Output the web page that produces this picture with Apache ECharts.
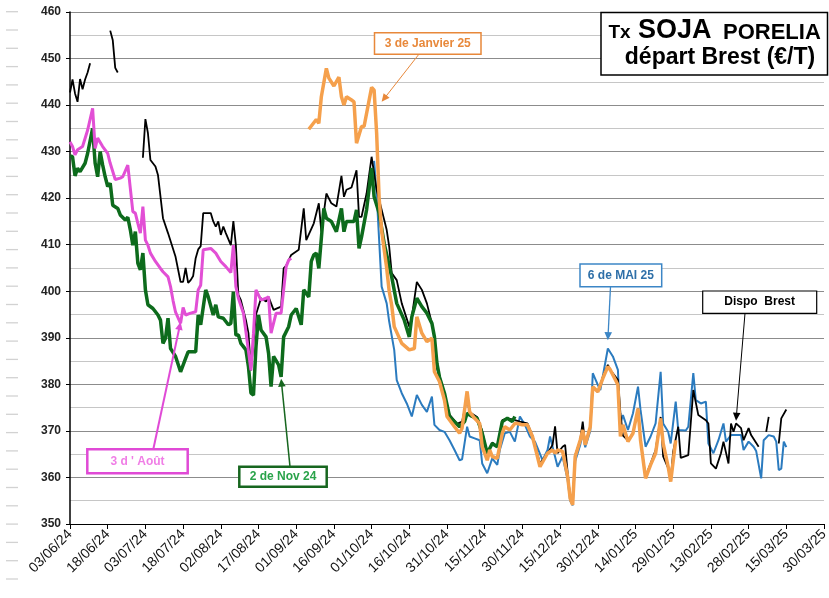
<!DOCTYPE html>
<html><head><meta charset="utf-8">
<script src="https://cdn.jsdelivr.net/npm/echarts/dist/echarts.min.js"></script>
<style>html,body{margin:0;padding:0;background:#fff}#c{width:829px;height:598px}</style>
</head><body><div id="c"></div>
<script>
// ---------- axis definition ----------
const startDate = '2024-06-03';
const endDate = '2025-03-30';
const tickStepDays = 15;
const yMin = 350, yMax = 460, yStep = 10;

// ---------- series (date, €/T) ; null = gap ----------
const dispoBrest = [
['2024-06-03',442.7],['2024-06-04',445.5],['2024-06-05',442.5],['2024-06-06',440.7],['2024-06-07',445.6],['2024-06-08',443.4],['2024-06-09',445.5],['2024-06-10',447],['2024-06-11',449],['2024-06-12',null],
['2024-06-19',456],['2024-06-20',454],['2024-06-21',448],['2024-06-22',447],['2024-06-23',null],
['2024-07-02',428.7],['2024-07-03',437],['2024-07-04',434],['2024-07-05',428.2],['2024-07-07',426.8],['2024-07-08',425],['2024-07-10',415.7],['2024-07-12',412.5],['2024-07-15',407.4],['2024-07-17',402],['2024-07-18',402],['2024-07-19',405],['2024-07-20',401.8],['2024-07-21',402.4],['2024-07-22',403.3],['2024-07-23',407.1],['2024-07-24',409],['2024-07-25',409.7],['2024-07-26',416.8],['2024-07-29',416.8],['2024-07-30',415],['2024-07-31',413.9],
['2024-08-01',415],['2024-08-02',412.1],['2024-08-03',413.9],['2024-08-04',412.5],['2024-08-06',409.9],['2024-08-07',415.1],['2024-08-08',409.9],['2024-08-09',399.2],['2024-08-10',398.1],['2024-08-12',393.8],['2024-08-13',391],['2024-08-14',383],['2024-08-16',395],['2024-08-18',398.5],['2024-08-20',397.8],['2024-08-21',398.8],['2024-08-23',396],['2024-08-26',396.7],['2024-08-27',404.9],['2024-08-28',405.5],['2024-08-30',407.8],
['2024-09-02',408.9],['2024-09-04',417.8],['2024-09-05',411],['2024-09-08',414.6],['2024-09-10',418.9],['2024-09-11',412.8],['2024-09-13',421],['2024-09-15',418.9],['2024-09-17',418.2],['2024-09-19',424.8],['2024-09-20',420.3],['2024-09-21',421.8],['2024-09-23',422.3],['2024-09-25',426],['2024-09-26',416],['2024-09-27',416],['2024-09-29',421],
['2024-10-01',428.9],['2024-10-03',421.8],['2024-10-05',417.5],['2024-10-07',413.2],['2024-10-08',409.6],['2024-10-09',403.9],['2024-10-11',402.4],['2024-10-13',397.4],['2024-10-16',392.4],['2024-10-17',394.5],['2024-10-19',402],['2024-10-21',400.3],['2024-10-23',397.4],['2024-10-25',393.1],['2024-10-26',390.2],['2024-10-27',383.5],['2024-10-29',380],
['2024-11-01',373.5],['2024-11-04',371.5],['2024-11-06',372],['2024-11-08',377],['2024-11-09',374],['2024-11-12',373],['2024-11-14',370],['2024-11-16',365],['2024-11-18',367.5],['2024-11-20',366.6],['2024-11-22',372.3],['2024-11-24',372.7],['2024-11-26',372.5],['2024-11-29',372],
['2024-12-02',371.6],['2024-12-04',369],['2024-12-07',363],['2024-12-10',365.2],['2024-12-12',367],['2024-12-13',371],['2024-12-14',365.2],['2024-12-16',366.6],['2024-12-17',367],['2024-12-18',361],['2024-12-19',356],['2024-12-20',354.5],['2024-12-21',364.8],['2024-12-23',368],['2024-12-24',372],['2024-12-25',367],['2024-12-27',370.9],['2024-12-28',379.5],['2024-12-30',378.4],
['2025-01-01',381.6],['2025-01-03',384.2],['2025-01-04',383.1],['2025-01-07',381],['2025-01-08',373.8],['2025-01-09',369],['2025-01-11',368],['2025-01-13',369.5],['2025-01-15',374.8],['2025-01-16',368],['2025-01-18',360.2],['2025-01-20',363],['2025-01-22',365.9],['2025-01-24',373],['2025-01-25',364.5],['2025-01-27',362],['2025-01-28',359.5],['2025-01-29',365.6],['2025-01-31',370.9],
['2025-02-01',364.2],['2025-02-04',364.8],['2025-02-06',378.8],['2025-02-08',373.4],['2025-02-11',372.3],['2025-02-12',371.6],['2025-02-13',363],['2025-02-15',361.9],['2025-02-17',365.2],['2025-02-18',367.7],['2025-02-20',363],['2025-02-21',371.6],['2025-02-22',369.8],['2025-02-23',371.6],['2025-02-25',370.6],['2025-02-26',368],['2025-02-28',370.6],
['2025-03-01',369.1],['2025-03-04',366.6],['2025-03-05',null],['2025-03-07',369.8],['2025-03-08',373],['2025-03-09',null],['2025-03-12',367.3],['2025-03-13',372.7],['2025-03-15',374.6]
];

const aout = [
['2024-06-03',432.1],['2024-06-04',431.1],['2024-06-05',429.3],['2024-06-06',430.4],['2024-06-08',431.1],['2024-06-10',434.6],['2024-06-12',439.3],['2024-06-13',430.7],['2024-06-14',432.9],['2024-06-16',431.1],['2024-06-18',429.6],['2024-06-19',427.5],['2024-06-21',424],['2024-06-23',424.3],['2024-06-24',424.6],['2024-06-26',427.1],['2024-06-27',422.1],['2024-06-28',417.1],['2024-06-29',416.8],['2024-06-30',414.6],
['2024-07-01',412.5],['2024-07-02',418.2],['2024-07-03',411],['2024-07-04',409.9],['2024-07-05',408.2],['2024-07-07',406.4],['2024-07-09',404.9],['2024-07-10',404.2],['2024-07-12',403.1],['2024-07-13',401],['2024-07-14',398],['2024-07-15',395.5],['2024-07-17',393.1],['2024-07-18',396.5],['2024-07-19',394.9],['2024-07-21',395.3],['2024-07-23',395.6],['2024-07-24',400.3],['2024-07-25',401.3],['2024-07-26',408.9],['2024-07-29',409.2],['2024-07-31',408.2],
['2024-08-02',406.4],['2024-08-04',405.3],['2024-08-06',404],['2024-08-07',409.9],['2024-08-08',401],['2024-08-09',398.5],['2024-08-11',395.3],['2024-08-12',391.3],['2024-08-14',383],['2024-08-15',391],['2024-08-16',400.3],['2024-08-18',398.1],['2024-08-20',398.5],['2024-08-21',398.8],['2024-08-22',391],['2024-08-24',395.3],['2024-08-26',395.3],['2024-08-28',405.3],['2024-08-29',406.7],['2024-08-30',407.1]
];

const nov24 = [
['2024-06-03',429.1],['2024-06-04',428.9],['2024-06-05',424.8],['2024-06-06',426.4],['2024-06-07',425.7],['2024-06-09',427.5],['2024-06-10',429.6],['2024-06-12',435],['2024-06-13',427.5],['2024-06-14',424.6],['2024-06-15',430],['2024-06-16',427.1],['2024-06-17',424.6],['2024-06-18',422.5],['2024-06-19',423.2],['2024-06-20',418.5],['2024-06-22',417.8],['2024-06-23',416.4],['2024-06-25',415.3],['2024-06-26',415.9],['2024-06-27',413.2],['2024-06-28',409.9],['2024-06-29',412.8],['2024-06-30',406],
['2024-07-01',404.6],['2024-07-02',408.2],['2024-07-03',400.3],['2024-07-04',397.1],['2024-07-06',396.3],['2024-07-08',394.9],['2024-07-09',393.8],['2024-07-10',388.8],['2024-07-11',389.9],['2024-07-12',394.2],['2024-07-13',387.7],['2024-07-15',386],['2024-07-17',382.7],['2024-07-19',385.6],['2024-07-20',387],['2024-07-23',387],['2024-07-24',394.9],['2024-07-25',392.8],['2024-07-27',400.3],['2024-07-28',398.8],['2024-07-30',394.9],['2024-07-31',397.1],
['2024-08-01',394.5],['2024-08-03',394.2],['2024-08-05',392.8],['2024-08-06',393.1],['2024-08-07',399.9],['2024-08-08',390.6],['2024-08-09',390.6],['2024-08-10',388.8],['2024-08-12',387.4],['2024-08-13',383.8],['2024-08-14',378.1],['2024-08-15',377.7],['2024-08-16',388.1],['2024-08-17',394.9],['2024-08-18',391.7],['2024-08-20',390.2],['2024-08-21',386.7],['2024-08-22',379.5],['2024-08-23',386],['2024-08-25',384.2],['2024-08-26',381.6],['2024-08-27',390.2],['2024-08-29',392.4],['2024-08-30',394.9],
['2024-09-01',396.3],['2024-09-03',392.8],['2024-09-04',400.3],['2024-09-06',398.8],['2024-09-07',406.4],['2024-09-08',407.8],['2024-09-09',408.2],['2024-09-10',404.9],['2024-09-12',417.8],['2024-09-13',415.7],['2024-09-15',415],['2024-09-17',412.8],['2024-09-19',417.8],['2024-09-20',412.8],['2024-09-21',415],['2024-09-24',415],['2024-09-25',417.5],['2024-09-26',409.2],['2024-09-27',411.7],['2024-09-29',417.5],
['2024-10-01',426.5],['2024-10-02',420.3],['2024-10-04',416.8],['2024-10-06',410.3],['2024-10-09',403.1],['2024-10-11',397.4],['2024-10-14',393.8],['2024-10-16',390.2],['2024-10-17',394.5],['2024-10-19',398.5],['2024-10-21',396.7],['2024-10-23',395.3],['2024-10-25',393.1],['2024-10-26',390.2],['2024-10-27',384.5],['2024-10-28',381.6],['2024-10-30',378.1],
['2024-11-01',373.1],['2024-11-05',370.9],['2024-11-07',372],['2024-11-08',373.8],['2024-11-10',373.1],['2024-11-12',372.7],['2024-11-14',369.5],['2024-11-16',365.2],['2024-11-18',367.3],['2024-11-20',366.6],['2024-11-22',372],['2024-11-24',372.7],['2024-11-26',372],['2024-11-27',373.1]
];

const janvier25 = [
['2024-09-06',434.8],['2024-09-08',436.2],['2024-09-09',436.9],['2024-09-10',436.1],['2024-09-11',441.8],['2024-09-13',447.9],['2024-09-14',445.8],['2024-09-16',444.1],['2024-09-18',446],['2024-09-19',441.8],['2024-09-20',440],['2024-09-21',441.8],['2024-09-23',441.1],['2024-09-24',440.7],['2024-09-25',431.8],['2024-09-27',435.4],['2024-09-28',435.4],
['2024-10-01',443.8],['2024-10-02',443.2],['2024-10-03',434],['2024-10-04',420],['2024-10-05',413],['2024-10-07',405],['2024-10-08',400],['2024-10-09',397],['2024-10-10',392.4],['2024-10-13',388.8],['2024-10-16',387.4],['2024-10-18',387.7],['2024-10-19',394.5],['2024-10-21',391],['2024-10-23',389.2],['2024-10-25',389.9],['2024-10-26',382.7],['2024-10-28',380.6],['2024-10-30',376.6],['2024-10-31',373.1],
['2024-11-03',370.9],['2024-11-05',369.5],['2024-11-06',370.6],['2024-11-08',378.5],['2024-11-09',374.1],['2024-11-11',372.7],['2024-11-13',371.6],['2024-11-14',366.6],['2024-11-16',363.7],['2024-11-17',365.9],['2024-11-18',364.5],['2024-11-20',364.1],['2024-11-22',369.5],['2024-11-23',370.9],['2024-11-25',370.2],['2024-11-27',371.6],['2024-11-28',371.6],['2024-11-30',371.3],
['2024-12-02',371.3],['2024-12-04',368.8],['2024-12-07',362.3],['2024-12-10',365.2],['2024-12-12',365.9],['2024-12-13',365.2],['2024-12-14',365.9],['2024-12-16',365.6],['2024-12-18',360.2],['2024-12-19',355.5],['2024-12-20',354.1],['2024-12-21',364.5],['2024-12-23',368],['2024-12-24',370.2],['2024-12-25',367],['2024-12-27',370.9],['2024-12-28',379.5],['2024-12-30',378.4],
['2025-01-01',381.3],['2025-01-03',383.8],['2025-01-04',383.1],['2025-01-07',379.9],['2025-01-08',368.8],['2025-01-09',371.3],['2025-01-11',367.7],['2025-01-13',369.5],['2025-01-15',374.8],['2025-01-16',368],['2025-01-18',359.8],['2025-01-20',362.7],['2025-01-22',365.2],['2025-01-24',372.7],['2025-01-25',367.3],['2025-01-27',362.3],['2025-01-28',359.1],['2025-01-30',368]
];

const mai25 = [
['2024-10-02',428],['2024-10-03',421],['2024-10-04',411],['2024-10-05',401],['2024-10-07',397.4],['2024-10-08',393.5],['2024-10-10',387.4],['2024-10-11',380.9],['2024-10-13',378.1],['2024-10-15',375.9],['2024-10-17',373.1],['2024-10-19',377.7],['2024-10-21',375.6],['2024-10-23',374.1],['2024-10-25',377.4],['2024-10-26',371.3],['2024-10-28',370.2],['2024-10-30',369.8],
['2024-11-01',368],['2024-11-03',365.9],['2024-11-05',363.7],['2024-11-06',363.9],['2024-11-08',370.9],['2024-11-09',368.8],['2024-11-11',368.4],['2024-11-13',368],['2024-11-14',363],['2024-11-16',360.9],['2024-11-18',364.1],['2024-11-20',362.7],['2024-11-21',365.9],['2024-11-23',369.5],['2024-11-25',369.8],['2024-11-27',367.7],['2024-11-29',373.1],
['2024-12-01',371.3],['2024-12-03',368.8],['2024-12-05',367.7],['2024-12-08',363.7],['2024-12-10',365.9],['2024-12-11',368.8],['2024-12-12',366.6],['2024-12-14',362.3],['2024-12-15',363.4],['2024-12-16',364.5],['2024-12-18',359.5],['2024-12-19',355],['2024-12-20',354],['2024-12-21',363.5],['2024-12-23',367],['2024-12-24',369.5],['2024-12-25',366.5],['2024-12-27',370],['2024-12-28',382.4],['2024-12-30',379.9],['2024-12-31',378.8],
['2025-01-03',387.7],['2025-01-05',386],['2025-01-07',383.1],['2025-01-08',371.6],['2025-01-09',373.4],['2025-01-11',370.2],['2025-01-13',373.8],['2025-01-15',379.5],['2025-01-16',374.5],['2025-01-18',366.6],['2025-01-20',368.8],['2025-01-22',371.6],['2025-01-24',382.7],['2025-01-25',371.6],['2025-01-27',369.8],['2025-01-28',367.3],['2025-01-30',376.3],['2025-01-31',370.2],
['2025-02-03',370.1],['2025-02-04',370.9],['2025-02-06',382.4],['2025-02-07',376.6],['2025-02-09',375.9],['2025-02-11',376.3],['2025-02-12',367.3],['2025-02-14',365.2],['2025-02-16',368],['2025-02-18',371.6],['2025-02-19',367.7],['2025-02-21',369.1],['2025-02-25',369.1],['2025-02-26',365.9],['2025-02-28',367.7],
['2025-03-02',366.6],['2025-03-03',365.7],['2025-03-05',359.8],['2025-03-06',368],['2025-03-08',369.1],['2025-03-10',368.8],['2025-03-11',367.7],['2025-03-12',361.6],['2025-03-13',361.9],['2025-03-14',367.7],['2025-03-15',366.5]
];

// ---------- helpers ----------
function utc(s){ const p = s.split('-').map(Number); return Date.UTC(p[0], p[1]-1, p[2]); }
const T0 = utc(startDate);
const spanDays = (utc(endDate) - T0) / 86400000;
function dayOf(s){ return (utc(s) - T0) / 86400000; }
function fmtDay(day){
  const t = new Date(T0 + Math.round(day) * 86400000);
  const dd = String(t.getUTCDate()).padStart(2,'0');
  const mm = String(t.getUTCMonth()+1).padStart(2,'0');
  const yy = String(t.getUTCFullYear()).slice(2);
  return dd + '/' + mm + '/' + yy;
}
function toData(arr){ return arr.map(function(r){ return [dayOf(r[0]), r[1] === null ? null : r[1]]; }); }

const chart = echarts.init(document.getElementById('c'), null, {renderer:'canvas'});
const FONT = 'Liberation Sans, Arial, sans-serif';

function line(name, arr, color, width, z){
  return { name: name, type:'line', data: toData(arr), showSymbol:false, symbol:'none',
    connectNulls:false, lineStyle:{color:color, width:width}, itemStyle:{color:color},
    z: z, animation:false, emphasis:{disabled:true} };
}

const option = {
  animation:false,
  backgroundColor:'#ffffff',
  grid:{left:70, right:5, top:12, bottom:74, containLabel:false, outerBoundsMode:'none'},
  xAxis:{
    type:'value', min:0, max:spanDays, interval:tickStepDays,
    axisLine:{show:true, onZero:false, lineStyle:{color:'#000', width:1.2}},
    axisTick:{show:true, length:5, lineStyle:{color:'#000'}},
    axisLabel:{rotate:45, formatter:fmtDay, fontSize:14, color:'#111', fontFamily:FONT, margin:8,
      showMinLabel:true, showMaxLabel:true, hideOverlap:false},
    splitLine:{show:false}
  },
  yAxis:{
    type:'value', min:yMin, max:yMax, interval:yStep,
    axisLine:{show:true, lineStyle:{color:'#000', width:1.5}},
    axisTick:{show:true, length:4, lineStyle:{color:'#000'}},
    axisLabel:{fontWeight:'bold', fontSize:12, color:'#222', fontFamily:FONT, margin:9,
      showMinLabel:true, showMaxLabel:true},
    splitLine:{show:true, lineStyle:{color:'#8c8c8c', width:1.2}},
    minorTick:{show:false, splitNumber:2},
    minorSplitLine:{show:true, lineStyle:{color:'#c6c6c6', width:1}}
  },
  series:[
    line('6 de MAI 25', mai25, '#2b7bbf', 2, 2),
    line('Dispo Brest', dispoBrest, '#000000', 1.8, 3),
    line('2 de Nov 24', nov24, '#0d6b1c', 3.5, 4),
    line("3 d ' Août", aout, '#e24fd5', 3, 5),
    line('3 de Janvier 25', janvier25, '#f5a04c', 3.5, 6)
  ]
};
chart.setOption(option);

// ---------- annotations ----------
const annotations = [
  {text:'3 de Janvier 25', box:[374.5,32.7,106.5,21.6], from:[418.3,55], tip:['2024-10-05',440.7], color:'#e8883a', txt:'#e8883a', bw:1.5, lw:1},
  {text:'6 de MAI 25', box:[580,264,81.7,22.7], from:[610.5,286.7], tip:['2025-01-03',389.5], color:'#3c86c6', txt:'#2e6fa8', bw:1.5, lw:1.3},
  {text:'Dispo  Brest', box:[702.7,291,114,22.3], from:[745,313.3], tip:['2025-02-23',372.2], color:'#000000', txt:'#000000', bw:1.2, lw:1},
  {text:"3 d ' Août", box:[87.3,449.3,100.4,24], from:[153.3,449.3], tip:['2024-07-17',393.4], color:'#e04ad6', txt:'#f07ee6', bw:2.5, lw:2},
  {text:'2 de Nov 24', box:[239.3,466.7,87.4,20], from:[290,466.7], tip:['2024-08-26',381.2], color:'#17661f', txt:'#2aa34a', bw:2.5, lw:1.5}
];

const g = [];
// faint dashes on left margin
for (let i = 0; i < 32; i++) {
  const y = 11.7 + i * 18.3;
  g.push({type:'line', shape:{x1:6, y1:y, x2:18, y2:y}, style:{stroke:'#d2d2d2', lineWidth:1.3}, silent:true, z:1});
}
annotations.forEach(function(a){
  const p = chart.convertToPixel({gridIndex:0}, [dayOf(a.tip[0]), a.tip[1]]);
  const sx = a.from[0], sy = a.from[1];
  const dx = p[0]-sx, dy = p[1]-sy, L = Math.sqrt(dx*dx+dy*dy);
  const ux = dx/L, uy = dy/L, nx = -uy, ny = ux;
  const hl = 8, hw = 3.8;
  g.push({type:'line', shape:{x1:sx, y1:sy, x2:p[0]-ux*hl*0.7, y2:p[1]-uy*hl*0.7}, style:{stroke:a.color, lineWidth:a.lw}, z:50});
  g.push({type:'polygon', shape:{points:[[p[0],p[1]],[p[0]-ux*hl+nx*hw, p[1]-uy*hl+ny*hw],[p[0]-ux*hl-nx*hw, p[1]-uy*hl-ny*hw]]}, style:{fill:a.color}, z:50});
  g.push({type:'rect', shape:{x:a.box[0], y:a.box[1], width:a.box[2], height:a.box[3]}, style:{fill:'#fff', stroke:a.color, lineWidth:a.bw}, z:60});
  g.push({type:'text', x:a.box[0]+a.box[2]/2, y:a.box[1]+a.box[3]/2, style:{text:a.text, fill:a.txt, font:'bold 12px '+FONT, textAlign:'center', textVerticalAlign:'middle', verticalAlign:'middle'}, z:61});
});
// title box
g.push({type:'rect', shape:{x:601, y:12.5, width:226.5, height:62.5}, style:{fill:'#fff', stroke:'#000', lineWidth:1.5}, z:70});
g.push({type:'text', x:608.5, y:32.5, style:{text:'Tx', fill:'#000', font:'bold 19px '+FONT, textAlign:'left', verticalAlign:'middle'}, z:71});
g.push({type:'text', x:638, y:30.5, style:{text:'SOJA', fill:'#000', font:'bold 27px '+FONT, textAlign:'left', verticalAlign:'middle'}, z:71});
g.push({type:'text', x:723, y:32.5, style:{text:'PORELIA', fill:'#000', font:'bold 22px '+FONT, textAlign:'left', verticalAlign:'middle'}, z:71});
g.push({type:'text', x:720, y:57.5, style:{text:'départ Brest (€/T)', fill:'#000', font:'bold 23px '+FONT, textAlign:'center', verticalAlign:'middle'}, z:71});

chart.setOption({graphic:{elements:g}});
</script>
</body></html>
